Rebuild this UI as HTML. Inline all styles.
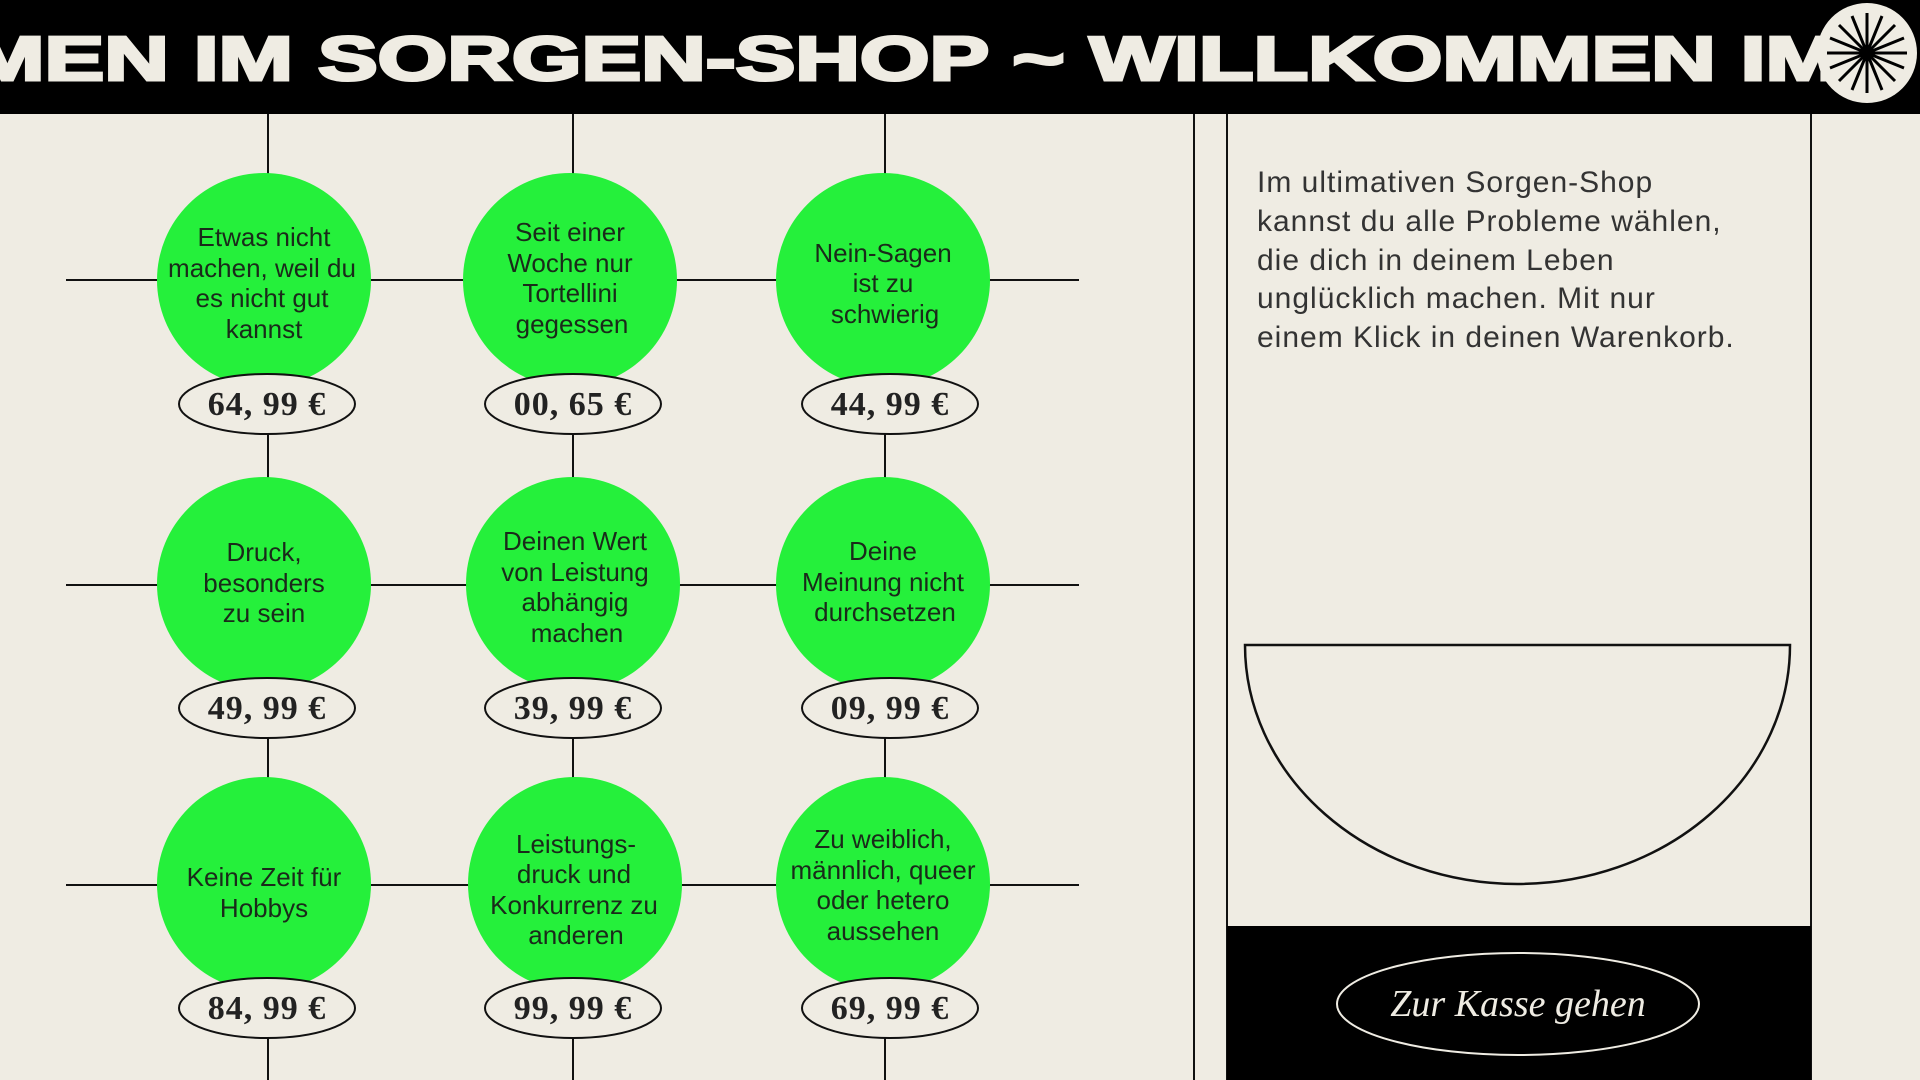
<!DOCTYPE html>
<html><head><meta charset="utf-8"><style>
html,body{margin:0;padding:0;width:1920px;height:1080px;overflow:hidden;background:#efece3;}
svg{display:block}
.ct{font-family:"Liberation Sans",sans-serif;font-size:26px;fill:#1a2a1a;text-anchor:middle}
.pr{font-family:"Liberation Serif",serif;font-size:34px;font-weight:bold;fill:#222;text-anchor:middle;letter-spacing:1px}
.p{font-family:"Liberation Sans",sans-serif;font-size:30px;fill:#333;letter-spacing:1px}
</style></head><body>
<svg width="1920" height="1080" viewBox="0 0 1920 1080">
<rect width="1920" height="1080" fill="#efece3"/>
<!-- header -->
<rect width="1920" height="114" fill="#000"/>
<text x="-30" y="80" textLength="1870" lengthAdjust="spacingAndGlyphs" font-family="Liberation Sans,sans-serif" font-weight="900" font-size="62" fill="#efece3" stroke="#efece3" stroke-width="3">MEN IM SORGEN-SHOP ~ WILLKOMMEN IM</text>
<circle cx="1867" cy="53" r="50" fill="#efece3"/>
<g stroke="#000" stroke-width="3">
<line x1="1827" y1="53" x2="1907" y2="53"/><line x1="1867" y1="13" x2="1867" y2="93"/>
<line x1="1839" y1="25" x2="1895" y2="81"/><line x1="1895" y1="25" x2="1839" y2="81"/>
<line x1="1830" y1="38" x2="1904" y2="68"/><line x1="1830" y1="68" x2="1904" y2="38"/>
<line x1="1852" y1="16" x2="1882" y2="90"/><line x1="1882" y1="16" x2="1852" y2="90"/>
</g>
<circle cx="1867" cy="53" r="7" fill="#000"/>
<!-- grid lines -->
<g stroke="#111" stroke-width="2">
<line x1="268" y1="114" x2="268" y2="1080"/><line x1="573" y1="114" x2="573" y2="1080"/><line x1="885" y1="114" x2="885" y2="1080"/>
<line x1="66" y1="280" x2="1079" y2="280"/><line x1="66" y1="585" x2="1079" y2="585"/><line x1="66" y1="885" x2="1079" y2="885"/>
<line x1="1194" y1="114" x2="1194" y2="1080"/><line x1="1227" y1="114" x2="1227" y2="1080"/><line x1="1811" y1="114" x2="1811" y2="1080"/>
</g>
<!-- circles -->
<g fill="#25f03b">
<circle cx="264" cy="280" r="107"/><circle cx="570" cy="280" r="107"/><circle cx="883" cy="280" r="107"/>
<circle cx="264" cy="584" r="107"/><circle cx="573" cy="584" r="107"/><circle cx="883" cy="584" r="107"/>
<circle cx="264" cy="884" r="107"/><circle cx="575" cy="884" r="107"/><circle cx="883" cy="884" r="107"/>
</g>
<g class="ct">
<text x="264" y="246" class="ct">Etwas nicht</text><text x="262" y="277" class="ct">machen, weil du</text><text x="262" y="307" class="ct">es nicht gut</text><text x="264" y="338" class="ct">kannst</text>
<text x="570" y="241" class="ct">Seit einer</text><text x="570" y="272" class="ct">Woche nur</text><text x="570" y="302" class="ct">Tortellini</text><text x="572" y="333" class="ct">gegessen</text>
<text x="883" y="262" class="ct">Nein-Sagen</text><text x="883" y="292" class="ct">ist zu</text><text x="885" y="323" class="ct">schwierig</text>
<text x="264" y="561" class="ct">Druck,</text><text x="264" y="592" class="ct">besonders</text><text x="264" y="622" class="ct">zu sein</text>
<text x="575" y="550" class="ct">Deinen Wert</text><text x="575" y="581" class="ct">von Leistung</text><text x="575" y="611" class="ct">abhängig</text><text x="577" y="642" class="ct">machen</text>
<text x="883" y="560" class="ct">Deine</text><text x="883" y="591" class="ct">Meinung nicht</text><text x="885" y="621" class="ct">durchsetzen</text>
<text x="264" y="886" class="ct">Keine Zeit für</text><text x="264" y="917" class="ct">Hobbys</text>
<text x="576" y="853" class="ct">Leistungs-</text><text x="574" y="883" class="ct">druck und</text><text x="574" y="914" class="ct">Konkurrenz zu</text><text x="576" y="944" class="ct">anderen</text>
<text x="883" y="848" class="ct">Zu weiblich,</text><text x="883" y="879" class="ct">männlich, queer</text><text x="883" y="909" class="ct">oder hetero</text><text x="883" y="940" class="ct">aussehen</text>
</g>
<!-- prices -->
<g fill="#efece3" stroke="#111" stroke-width="2">
<ellipse cx="267" cy="404" rx="88" ry="30"/><ellipse cx="573" cy="404" rx="88" ry="30"/><ellipse cx="890" cy="404" rx="88" ry="30"/>
<ellipse cx="267" cy="708" rx="88" ry="30"/><ellipse cx="573" cy="708" rx="88" ry="30"/><ellipse cx="890" cy="708" rx="88" ry="30"/>
<ellipse cx="267" cy="1008" rx="88" ry="30"/><ellipse cx="573" cy="1008" rx="88" ry="30"/><ellipse cx="890" cy="1008" rx="88" ry="30"/>
</g>
<g class="pr">
<text x="267" y="415" class="pr">64, 99 €</text><text x="573" y="415" class="pr">00, 65 €</text><text x="890" y="415" class="pr">44, 99 €</text>
<text x="267" y="719" class="pr">49, 99 €</text><text x="573" y="719" class="pr">39, 99 €</text><text x="890" y="719" class="pr">09, 99 €</text>
<text x="267" y="1019" class="pr">84, 99 €</text><text x="573" y="1019" class="pr">99, 99 €</text><text x="890" y="1019" class="pr">69, 99 €</text>
</g>
<!-- paragraph -->
<text x="1257" y="192" class="p">Im ultimativen Sorgen-Shop</text>
<text x="1257" y="231" class="p">kannst du alle Probleme wählen,</text>
<text x="1257" y="270" class="p">die dich in deinem Leben</text>
<text x="1257" y="308" class="p">unglücklich machen. Mit nur</text>
<text x="1257" y="347" class="p">einem Klick in deinen Warenkorb.</text>
<!-- bowl -->
<path d="M1245 645 L1790 645 A272.5 239 0 0 1 1245 645 Z" fill="none" stroke="#111" stroke-width="2.5"/>
<!-- checkout -->
<rect x="1227" y="926" width="584" height="154" fill="#000"/>
<ellipse cx="1518" cy="1004" rx="181" ry="51" fill="none" stroke="#efece3" stroke-width="2"/>
<text x="1518" y="1016" text-anchor="middle" font-family="Liberation Serif,serif" font-style="italic" font-size="38" fill="#efece3">Zur Kasse gehen</text>
</svg>
</body></html>
